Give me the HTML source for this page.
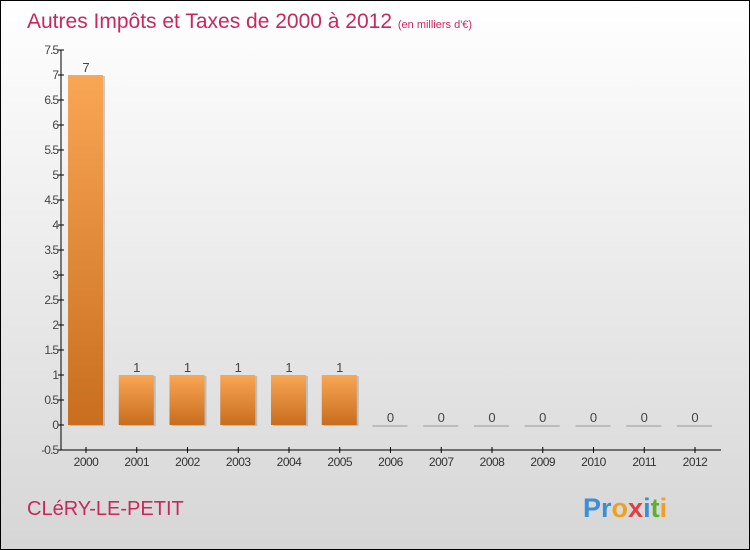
<!DOCTYPE html>
<html><head><meta charset="utf-8"><style>
html,body{margin:0;padding:0;}
body{width:750px;height:550px;overflow:hidden;font-family:"Liberation Sans",sans-serif;}
#wrap{position:relative;width:748px;height:548px;border:1px solid #000;background:linear-gradient(#ffffff,#d6d6d6);}
</style></head><body>
<div id="wrap">
<svg id="chart" width="748" height="548" style="position:absolute;left:0;top:0">
<defs>
<linearGradient id="bg" x1="0" y1="0" x2="0" y2="1"><stop offset="0" stop-color="#f9a655"/><stop offset="1" stop-color="#c86e1e"/></linearGradient>
</defs>
<text x="26" y="27" font-size="21" fill="#c8285a">Autres Impôts et Taxes de 2000 à 2012 <tspan font-size="11">(en milliers d'€)</tspan></text>
<text x="26" y="514" font-size="20" fill="#c8285a">CLéRY-LE-PETIT</text>
<text x="582" y="516" font-size="27" font-weight="bold"><tspan fill="#3a8fd8">Pr</tspan><tspan fill="#f0a020">o</tspan><tspan fill="#e04040">x</tspan><tspan fill="#3a8fd8">i</tspan><tspan fill="#60b030">t</tspan><tspan fill="#f0a020">i</tspan></text>
<g id="plot"></g>
</svg>
</div>
<script>
const years=["2000","2001","2002","2003","2004","2005","2006","2007","2008","2009","2010","2011","2012"];
const values=[7,1,1,1,1,1,0,0,0,0,0,0,0];
const yTicks=[-0.5,0,0.5,1,1.5,2,2.5,3,3.5,4,4.5,5,5.5,6,6.5,7,7.5];
const NS="http://www.w3.org/2000/svg";
const g=document.getElementById('plot');
const y0=424,yUnit=50,yMin=-0.5,yMax=7.5;
function yS(v){return y0-v*yUnit;}
function xS(i){return 85+i*50.75;}
function mk(t,a){const e=document.createElementNS(NS,t);for(const k in a)e.setAttribute(k,a[k]);g.appendChild(e);return e;}
let ax=mk('line',{x1:60,y1:yS(yMax),x2:60,y2:yS(yMin),stroke:'#000'});


let bx=mk('line',{x1:60,y1:yS(yMin),x2:720,y2:yS(yMin),stroke:'#000'});


yTicks.forEach(v=>{
  const y=yS(v);
  let t=mk('line',{x1:57,y1:y,x2:63,y2:y,stroke:'#000'});
  
  
  let l=mk('text',{x:57,y:y+4,'text-anchor':'end','font-size':12,fill:'#444','letter-spacing':'-1'});
  l.textContent=String(v);
  
  
});
years.forEach((yr,i)=>{
  const cx=xS(i),v=values[i];
  const top=yS(Math.max(v,0)),bot=yS(0);
  if(v>0){
    let s=mk('rect',{x:cx-16,y:top+1,width:35,height:bot-top,fill:'#999',opacity:0.5});
    
    
    let b=mk('rect',{x:cx-18,y:top,width:35,height:bot-top,fill:'url(#bg)'});
    
    
  } else {
    let b=mk('line',{x1:cx-18,y1:bot+1,x2:cx+17,y2:bot+1,stroke:'#999'});
    
    
  }
  let vl=mk('text',{x:cx,y:top-3,'text-anchor':'middle','font-size':13,fill:'#444'});
  vl.textContent=String(v);
  
  
  let t=mk('line',{x1:cx,y1:yS(yMin)-3,x2:cx,y2:yS(yMin)+3,stroke:'#000'});
  
  
  let xl=mk('text',{x:cx,y:yS(yMin)+16,'text-anchor':'middle','font-size':12,fill:'#333','letter-spacing':'-0.5'});
  xl.textContent=yr;
  
  
});
</script>
</body></html>
